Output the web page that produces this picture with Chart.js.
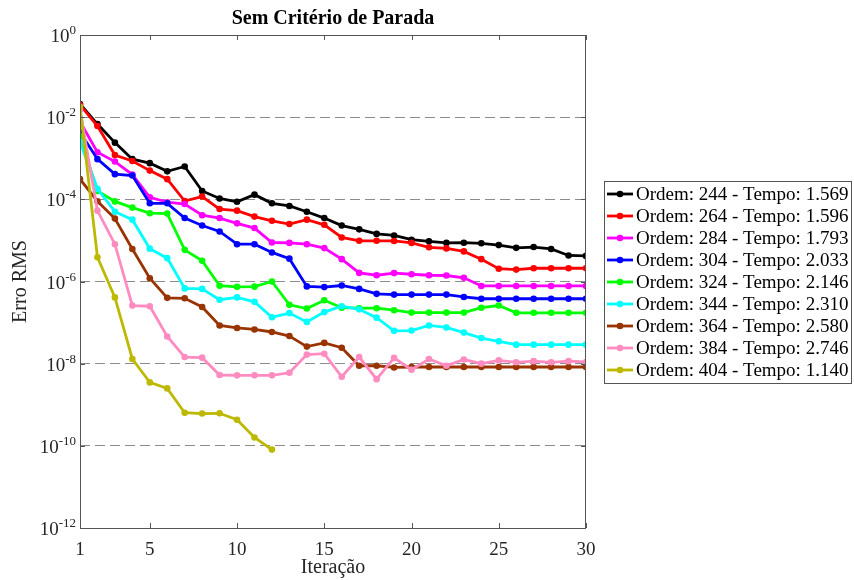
<!DOCTYPE html>
<html>
<head>
<meta charset="utf-8">
<script src="https://cdn.jsdelivr.net/npm/chart.js@4.4.1/dist/chart.umd.min.js"></script>
<style>
  html, body { margin: 0; padding: 0; background: #fff; }
  #wrap { width: 854px; height: 580px; position: relative; }
</style>
</head>
<body>
<div id="wrap"><canvas id="grafico"></canvas></div>
<script>
// Iterações e ticks dos eixos
const iteracoes = [1, 2, 3, 4, 5, 6, 7, 8, 9, 10, 11, 12, 13, 14, 15, 16, 17, 18, 19, 20, 21, 22, 23, 24, 25, 26, 27, 28, 29, 30];
const ticksX = [1, 5, 10, 15, 20, 25, 30];
const ticksY = [1e0, 1e-2, 1e-4, 1e-6, 1e-8, 1e-10, 1e-12];

// Rótulos da legenda (ordem do modelo e tempo)
const rotulos = [
  'Ordem: 244 - Tempo: 1.569',
  'Ordem: 264 - Tempo: 1.596',
  'Ordem: 284 - Tempo: 1.793',
  'Ordem: 304 - Tempo: 2.033',
  'Ordem: 324 - Tempo: 2.146',
  'Ordem: 344 - Tempo: 2.310',
  'Ordem: 364 - Tempo: 2.580',
  'Ordem: 384 - Tempo: 2.746',
  'Ordem: 404 - Tempo: 1.140'
];
const cores = ['#000000', '#ff0000', '#ff00ff', '#0000ff', '#00ff00', '#00ffff', '#993300', '#ff8cc0', '#bdb800'];

// Erro RMS por iteração para cada ordem
const erro244 = [2.1e-2, 6.8e-3, 2.4e-3, 9.5e-4, 7.6e-4, 4.8e-4, 6.3e-4, 1.6e-4, 1.05e-4, 8.7e-5, 1.3e-4, 8.0e-5, 6.9e-5, 5.0e-5, 3.5e-5, 2.3e-5, 1.86e-5, 1.44e-5, 1.32e-5, 1.04e-5, 9.5e-6, 8.7e-6, 8.8e-6, 8.5e-6, 7.7e-6, 6.6e-6, 6.9e-6, 6.2e-6, 4.3e-6, 4.2e-6];
const erro264 = [2.0e-2, 6.1e-3, 1.2e-3, 8.6e-4, 5.0e-4, 3.1e-4, 9.1e-5, 1.17e-4, 5.8e-5, 5.3e-5, 3.8e-5, 3.0e-5, 2.5e-5, 3.2e-5, 2.4e-5, 1.18e-5, 9.8e-6, 9.8e-6, 9.7e-6, 8.7e-6, 6.8e-6, 6.4e-6, 5.4e-6, 3.5e-6, 2.05e-6, 1.95e-6, 2.1e-6, 2.1e-6, 2.1e-6, 2.1e-6];
const erro284 = [7.8e-3, 1.4e-3, 8.3e-4, 4.0e-4, 1.12e-4, 8.5e-5, 7.7e-5, 4.1e-5, 3.5e-5, 2.6e-5, 2.0e-5, 8.9e-6, 8.7e-6, 8.1e-6, 6.5e-6, 3.5e-6, 1.62e-6, 1.42e-6, 1.6e-6, 1.5e-6, 1.42e-6, 1.4e-6, 1.23e-6, 7.8e-7, 7.8e-7, 7.8e-7, 7.8e-7, 7.8e-7, 7.8e-7, 7.8e-7];
const erro304 = [4.3e-3, 9.5e-4, 4.1e-4, 3.8e-4, 8.0e-5, 8.0e-5, 3.5e-5, 2.3e-5, 1.65e-5, 8.1e-6, 8.1e-6, 5.1e-6, 3.6e-6, 7.6e-7, 7.3e-7, 8.0e-7, 6.6e-7, 5.0e-7, 4.8e-7, 4.8e-7, 4.8e-7, 4.8e-7, 4.2e-7, 3.8e-7, 3.8e-7, 3.8e-7, 3.8e-7, 3.8e-7, 3.8e-7, 3.8e-7];
const erro324 = [3.4e-3, 1.6e-4, 8.9e-5, 6.3e-5, 4.6e-5, 4.5e-5, 5.9e-6, 3.2e-6, 7.9e-7, 7.4e-7, 7.5e-7, 1.0e-6, 2.7e-7, 2.2e-7, 3.5e-7, 2.3e-7, 2.24e-7, 2.24e-7, 2.0e-7, 1.75e-7, 1.75e-7, 1.75e-7, 1.75e-7, 2.3e-7, 2.6e-7, 1.73e-7, 1.73e-7, 1.73e-7, 1.73e-7, 1.73e-7];
const erro344 = [2.5e-3, 1.8e-4, 5.0e-5, 3.2e-5, 6.3e-6, 3.7e-6, 6.8e-7, 6.6e-7, 3.6e-7, 4.1e-7, 3.2e-7, 1.35e-7, 1.7e-7, 1.04e-7, 1.8e-7, 2.5e-7, 2.1e-7, 1.32e-7, 6.3e-8, 6.4e-8, 8.5e-8, 7.6e-8, 5.7e-8, 4.2e-8, 3.5e-8, 2.9e-8, 2.9e-8, 2.9e-8, 2.9e-8, 2.9e-8];
const erro364 = [3.1e-4, 9.0e-5, 3.4e-5, 6.2e-6, 1.2e-6, 4.0e-7, 3.9e-7, 2.4e-7, 8.5e-8, 7.4e-8, 6.8e-8, 5.9e-8, 4.7e-8, 2.6e-8, 3.2e-8, 2.45e-8, 8.9e-9, 8.9e-9, 8.1e-9, 8.3e-9, 8.3e-9, 8.3e-9, 8.3e-9, 8.3e-9, 8.3e-9, 8.3e-9, 8.3e-9, 8.3e-9, 8.3e-9, 8.3e-9];
const erro384 = [1.5e-2, 5.3e-5, 8.1e-6, 2.6e-7, 2.5e-7, 4.6e-8, 1.45e-8, 1.4e-8, 5.3e-9, 5.2e-9, 5.2e-9, 5.2e-9, 6.0e-9, 1.66e-8, 1.75e-8, 4.8e-9, 1.45e-8, 4.2e-9, 1.38e-8, 7.1e-9, 1.3e-8, 8.9e-9, 1.26e-8, 1.0e-8, 1.2e-8, 1.08e-8, 1.15e-8, 1.08e-8, 1.15e-8, 1.1e-8];
const erro404 = [1.8e-2, 3.9e-6, 4.1e-7, 1.3e-8, 3.5e-9, 2.5e-9, 6.4e-10, 6.1e-10, 6.2e-10, 4.3e-10, 1.6e-10, 8.1e-11];

const series = [erro244, erro264, erro284, erro304, erro324, erro344, erro364, erro384, erro404];

const FONTE = "'Liberation Serif', 'Times New Roman', serif";

// Monta os datasets (a última série fica por cima, como no MATLAB)
const datasets = series.map((serie, i) => ({
  label: rotulos[i],
  data: serie.map((v, k) => ({ x: iteracoes[k], y: v })),
  borderColor: cores[i],
  backgroundColor: cores[i],
  borderWidth: 2.8,
  pointRadius: 3.3,
  pointBorderWidth: 0,
  pointBackgroundColor: cores[i],
  tension: 0,
  order: series.length - i
}));

// Caixa do gráfico, ticks internos, rótulos 10^n e legenda
const moldura = {
  id: 'moldura',
  afterDraw(chart) {
    const { ctx, chartArea: a, scales: { x, y } } = chart;
    ctx.save();

    ctx.strokeStyle = '#555';
    ctx.lineWidth = 1;
    ctx.strokeRect(a.left + 0.5, a.top + 0.5, a.right - a.left - 1, a.bottom - a.top);

    ctx.beginPath();
    ticksX.forEach(v => {
      const px = Math.round(x.getPixelForValue(v)) + 0.5;
      ctx.moveTo(px, a.bottom); ctx.lineTo(px, a.bottom - 5);
      ctx.moveTo(px, a.top); ctx.lineTo(px, a.top + 5);
    });
    ticksY.forEach(v => {
      const py = Math.round(y.getPixelForValue(v)) + 0.5;
      ctx.moveTo(a.left, py); ctx.lineTo(a.left + 5, py);
      ctx.moveTo(a.right, py); ctx.lineTo(a.right - 5, py);
    });
    ctx.stroke();

    // rótulos do eixo y com expoente sobrescrito
    ctx.fillStyle = '#262626';
    ctx.textBaseline = 'alphabetic';
    ticksY.forEach(v => {
      const py = y.getPixelForValue(v);
      const exp = String(Math.round(Math.log10(v)));
      ctx.font = '13px ' + FONTE;
      const we = ctx.measureText(exp).width;
      const xFim = a.left - 4;
      ctx.textAlign = 'left';
      ctx.fillText(exp, xFim - we, py - 1);
      ctx.font = '19px ' + FONTE;
      ctx.textAlign = 'right';
      ctx.fillText('10', xFim - we, py + 7);
    });

    // legenda
    const lx = 604, ly = 181, lw = 247, lh = 202, passo = 22;
    ctx.fillStyle = '#fff';
    ctx.fillRect(lx, ly, lw, lh);
    ctx.strokeStyle = '#555';
    ctx.strokeRect(lx + 0.5, ly + 0.5, lw, lh);
    ctx.font = '19px ' + FONTE;
    ctx.textAlign = 'left';
    ctx.textBaseline = 'middle';
    rotulos.forEach((txt, i) => {
      const yy = ly + 13 + i * passo;
      ctx.strokeStyle = cores[i];
      ctx.lineWidth = 2.8;
      ctx.beginPath();
      ctx.moveTo(lx + 3, yy); ctx.lineTo(lx + 29, yy);
      ctx.stroke();
      ctx.fillStyle = cores[i];
      ctx.beginPath();
      ctx.arc(lx + 16, yy, 3.3, 0, Math.PI * 2);
      ctx.fill();
      ctx.fillStyle = '#000';
      ctx.fillText(txt, lx + 32, yy + 1);
    });

    ctx.restore();
  }
};

new Chart(document.getElementById('grafico'), {
  type: 'line',
  data: { datasets },
  options: {
    responsive: true,
    maintainAspectRatio: false,
    animation: false,
    layout: { padding: { left: 0, right: 268, top: 0, bottom: 0 } },
    plugins: {
      legend: { display: false },
      tooltip: { enabled: false },
      title: {
        display: true,
        fullSize: false,
        text: 'Sem Critério de Parada',
        color: '#000',
        font: { family: FONTE, size: 20, weight: 'bold' },
        padding: { top: 7, bottom: 4 }
      }
    },
    scales: {
      x: {
        type: 'linear',
        min: 1,
        max: 30,
        afterBuildTicks: s => { s.ticks = ticksX.map(v => ({ value: v })); },
        afterFit: s => { s.height = 52; },
        grid: { display: false },
        border: { display: false },
        ticks: {
          color: '#262626',
          font: { family: FONTE, size: 19 },
          padding: 3,
          maxRotation: 0,
          autoSkip: false
        },
        title: {
          display: true,
          text: 'Iteração',
          color: '#262626',
          font: { family: FONTE, size: 20 },
          padding: { top: 0, bottom: 0 }
        }
      },
      y: {
        type: 'logarithmic',
        min: 1e-12,
        max: 1,
        afterBuildTicks: s => { s.ticks = ticksY.map(v => ({ value: v })); },
        afterFit: s => { s.width = 80; },
        grid: { color: '#8c8c8c', lineWidth: 1, drawTicks: false },
        border: { display: false, dash: [10, 5] },
        ticks: { display: false },
        title: {
          display: true,
          text: 'Erro RMS',
          color: '#262626',
          font: { family: FONTE, size: 20 },
          padding: { top: 9, bottom: 0 }
        }
      }
    }
  },
  plugins: [moldura]
});
</script>
</body>
</html>
